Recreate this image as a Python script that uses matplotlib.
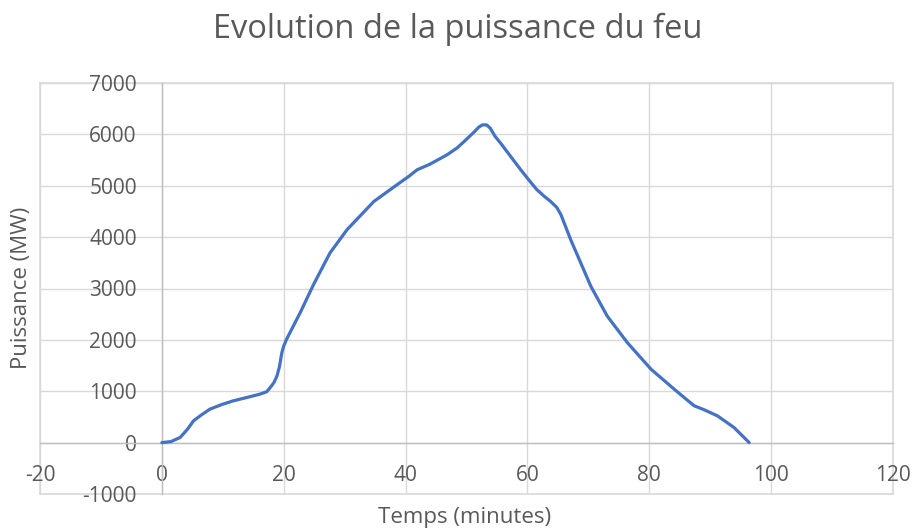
import matplotlib
matplotlib.use("Agg")
import matplotlib.pyplot as plt

# Data
temps = [0, 1.5, 3.0, 4.2, 5.2, 6.5, 7.9, 9.8, 11.7, 14.0, 16.1, 17.2, 17.8, 18.4, 18.9,
         19.3, 19.7, 20.0, 20.5, 22.7, 24.9, 27.6, 30.4, 34.8, 38.6, 40.5, 41.9, 44.0,
         46.8, 48.5, 49.6, 51.2, 52.0, 52.6, 53.3, 53.9, 54.7, 55.6, 58.9, 60.2, 61.5,
         62.8, 63.8, 64.8, 65.5, 67.1, 70.4, 73.1, 76.4, 80.3, 84.1, 86.0, 87.4, 89.0,
         91.2, 93.9, 96.4]
puissance = [0, 20, 100, 260, 424, 540, 652, 740, 813, 880, 944, 990, 1074, 1170, 1300,
             1480, 1755, 1880, 2020, 2528, 3078, 3693, 4146, 4695, 5020, 5180, 5311, 5420,
             5602, 5740, 5860, 6040, 6140, 6184, 6185, 6120, 5960, 5829, 5311, 5117, 4930,
             4790, 4695, 4580, 4437, 3951, 3045, 2462, 1946, 1427, 1039, 850, 715, 640,
             520, 295, 0]

x_ticks = [-20, 0, 20, 40, 60, 80, 100, 120]
y_ticks = [-1000, 0, 1000, 2000, 3000, 4000, 5000, 6000, 7000]

title = "Evolution de la puissance du feu"
x_label = "Temps (minutes)"
y_label = "Puissance (MW)"

plt.rcParams['font.family'] = ['Open Sans', 'DejaVu Sans']
plt.rcParams['axes.unicode_minus'] = False
text_color = '#595959'
grid_color = '#d9d9d9'

fig = plt.figure(figsize=(9.15, 5.29), dpi=100)
ax = fig.add_axes([40/915, 1-494/529, (893-40)/915, (494-83)/529])

ax.plot(temps, puissance, color='#4472C4', linewidth=2.3,
        solid_joinstyle='round', solid_capstyle='round', zorder=3)

ax.set_xlim(x_ticks[0], x_ticks[-1])
ax.set_ylim(y_ticks[0], y_ticks[-1])
ax.set_xticks(x_ticks)
ax.set_yticks(y_ticks)

ax.grid(True, color=grid_color, linewidth=1.0, zorder=0)
ax.set_axisbelow(True)
for gl in ax.get_xgridlines() + ax.get_ygridlines():
    gl.set_clip_on(False)
# outer grid lines at the plot limits
ax.axhline(y_ticks[0], color=grid_color, linewidth=1.2, clip_on=False, zorder=0)
ax.axhline(y_ticks[-1], color=grid_color, linewidth=1.2, clip_on=False, zorder=0)
ax.axvline(x_ticks[0], color=grid_color, linewidth=1.2, clip_on=False, zorder=0)
ax.axvline(x_ticks[-1], color=grid_color, linewidth=1.2, clip_on=False, zorder=0)

for s in ['top', 'right']:
    ax.spines[s].set_visible(False)
ax.spines['left'].set_position(('data', 0))
ax.spines['bottom'].set_position(('data', 0))
ax.spines['left'].set_color('#bfbfbf')
ax.spines['bottom'].set_color('#bfbfbf')
ax.spines['left'].set_linewidth(1.0)
ax.spines['bottom'].set_linewidth(1.0)

ax.tick_params(axis='y', length=0, pad=18, labelsize=15, labelcolor=text_color)
ax.tick_params(axis='x', length=0, pad=16, labelsize=15, labelcolor=text_color)

fig.text(458/915, 1-29/529, title, ha='center', va='center', fontsize=23.5, color=text_color)
fig.text(465/915, 1-518/529, x_label, ha='center', va='center', fontsize=16, color=text_color)
fig.text(22/915, 1-288/529, y_label, ha='center', va='center', rotation=90, fontsize=16,
         color=text_color)

fig.savefig("out.png", dpi=100)
